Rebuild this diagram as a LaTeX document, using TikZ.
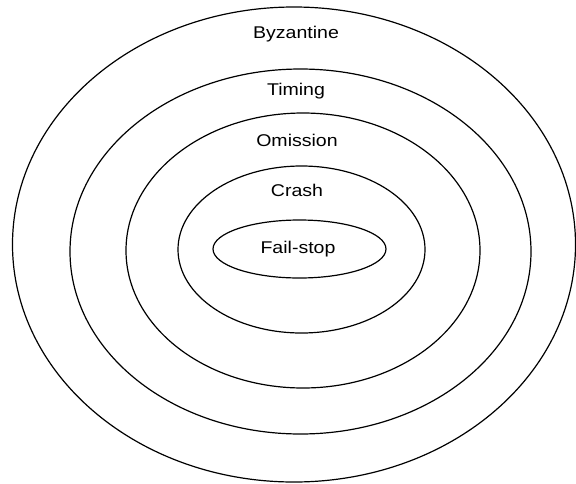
\documentclass[tikz,border=0pt]{standalone}
\usepackage{fontspec}
\setmainfont[FakeStretch=1.15]{Liberation Sans}
\usetikzlibrary{positioning}

\begin{document}
\begin{tikzpicture}[x=1pt,y=-1pt,line width=1.2pt]
\tikzset{faultlabel/.style={font=\fontsize{17}{20}\selectfont,inner sep=0pt}}
\useasboundingbox (0,0) rectangle (576,483);
% nested fault classes, outer to inner
\foreach \cx/\cy/\rx/\ry in {294/244.5/281.5/237.5,300.5/251.5/230.5/182.5,303/250.5/177/137.5,301.5/249.5/123.5/83.5,299.5/249/86.5/29}{
  \draw (\cx,\cy) ellipse [x radius=\rx, y radius=\ry];
}
\node[faultlabel] (byz) at (296,34){Byzantine};
\node[faultlabel] (timing) at (296,91){Timing};
\node[faultlabel] (omission) at (297,140){Omission};
\node[faultlabel] (crash) at (297,190){Crash};
\node[faultlabel] (failstop) at (298,249){Fail-stop};
\end{tikzpicture}
\end{document}
